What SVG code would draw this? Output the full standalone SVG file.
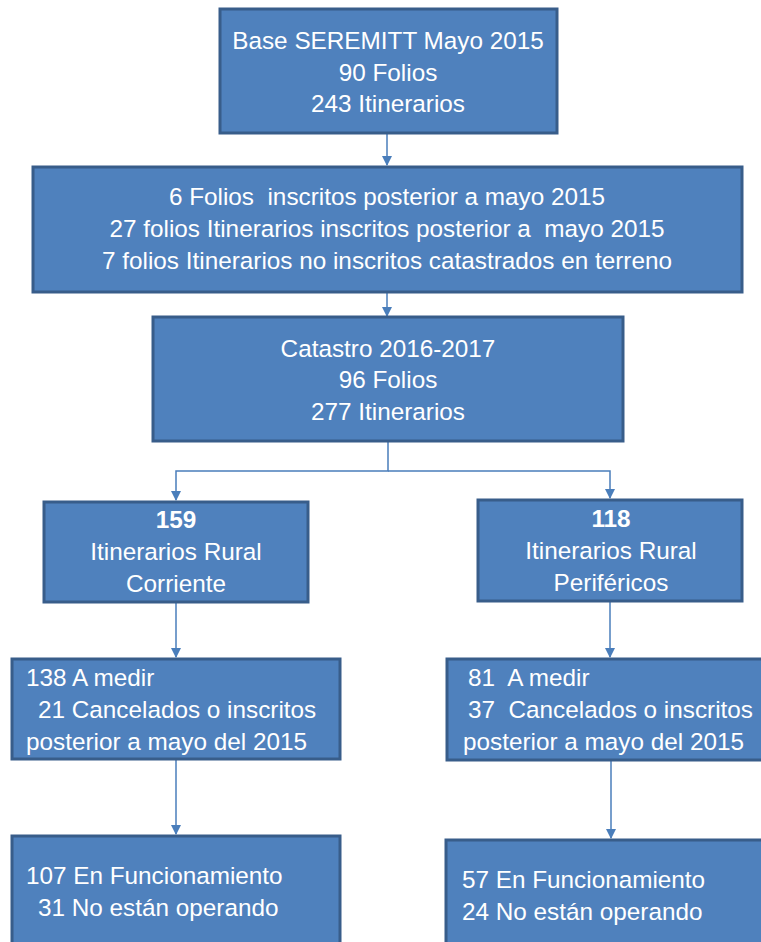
<svg xmlns="http://www.w3.org/2000/svg" width="761" height="942" viewBox="0 0 761 942">
<defs>
<style>
.box{fill:#4F81BD;stroke:#385D8A;stroke-width:3}
.t{font-family:"Liberation Sans",Arial,sans-serif;font-size:24.3px;fill:#FFFFFF}
.c{text-anchor:middle}
.b{font-weight:bold}
.con{fill:none;stroke:#4A7EBB;stroke-width:1.5}
</style>
<marker id="ah" markerWidth="10" markerHeight="10" refX="9" refY="5" orient="auto" markerUnits="userSpaceOnUse">
<path d="M0,0 L10,5 L0,10 Z" fill="#4A7EBB"/>
</marker>
</defs>
<rect width="761" height="942" fill="#FFFFFF"/>
<g id="connectors">
<path class="con" d="M387,134 V165" marker-end="url(#ah)"/>
<path class="con" d="M387,293 V316" marker-end="url(#ah)"/>
<path class="con" d="M388,442 V471 H176 V500" marker-end="url(#ah)"/>
<path class="con" d="M388,471 H610 V498" marker-end="url(#ah)"/>
<path class="con" d="M176,603 V657" marker-end="url(#ah)"/>
<path class="con" d="M610,602 V657" marker-end="url(#ah)"/>
<path class="con" d="M176,760 V834" marker-end="url(#ah)"/>
<path class="con" d="M611,761 V838" marker-end="url(#ah)"/>
</g>
<g id="n1">
<rect class="box" x="220" y="9" width="337" height="124"/>
<text class="t c" x="388" y="49">Base SEREMITT Mayo 2015</text>
<text class="t c" x="388" y="81">90 Folios</text>
<text class="t c" x="388" y="112">243 Itinerarios</text>
</g>
<g id="n2">
<rect class="box" x="33" y="167" width="709" height="125"/>
<text class="t c" x="387" y="205" xml:space="preserve">6 Folios  inscritos posterior a mayo 2015</text>
<text class="t c" x="387" y="237" xml:space="preserve">27 folios Itinerarios inscritos posterior a  mayo 2015</text>
<text class="t c" x="387" y="269">7 folios Itinerarios no inscritos catastrados en terreno</text>
</g>
<g id="n3">
<rect class="box" x="153" y="317" width="470" height="124"/>
<text class="t c" x="388" y="357">Catastro 2016-2017</text>
<text class="t c" x="388" y="388">96 Folios</text>
<text class="t c" x="388" y="420">277 Itinerarios</text>
</g>
<g id="n4">
<rect class="box" x="44" y="502" width="264" height="100"/>
<text class="t c b" x="176" y="528">159</text>
<text class="t c" x="176" y="560">Itinerarios Rural</text>
<text class="t c" x="176" y="592">Corriente</text>
</g>
<g id="n5">
<rect class="box" x="478" y="500" width="264" height="101"/>
<text class="t c b" x="611" y="527">118</text>
<text class="t c" x="611" y="559">Itinerarios Rural</text>
<text class="t c" x="611" y="591">Periféricos</text>
</g>
<g id="n6">
<rect class="box" x="12" y="659" width="328" height="100"/>
<text class="t" x="26" y="686">138 A medir</text>
<text class="t" x="38" y="718">21 Cancelados o inscritos</text>
<text class="t" x="26" y="750">posterior a mayo del 2015</text>
</g>
<g id="n7">
<rect class="box" x="447" y="659" width="330" height="101"/>
<text class="t" x="468" y="686" xml:space="preserve">81  A medir</text>
<text class="t" x="468" y="718" xml:space="preserve">37  Cancelados o inscritos</text>
<text class="t" x="463" y="750">posterior a mayo del 2015</text>
</g>
<g id="n8">
<rect class="box" x="12" y="836" width="328" height="120"/>
<text class="t" x="26" y="884">107 En Funcionamiento</text>
<text class="t" x="38" y="916">31 No están operando</text>
</g>
<g id="n9">
<rect class="box" x="446" y="840" width="330" height="120"/>
<text class="t" x="462" y="888">57 En Funcionamiento</text>
<text class="t" x="462" y="920">24 No están operando</text>
</g>
</svg>
